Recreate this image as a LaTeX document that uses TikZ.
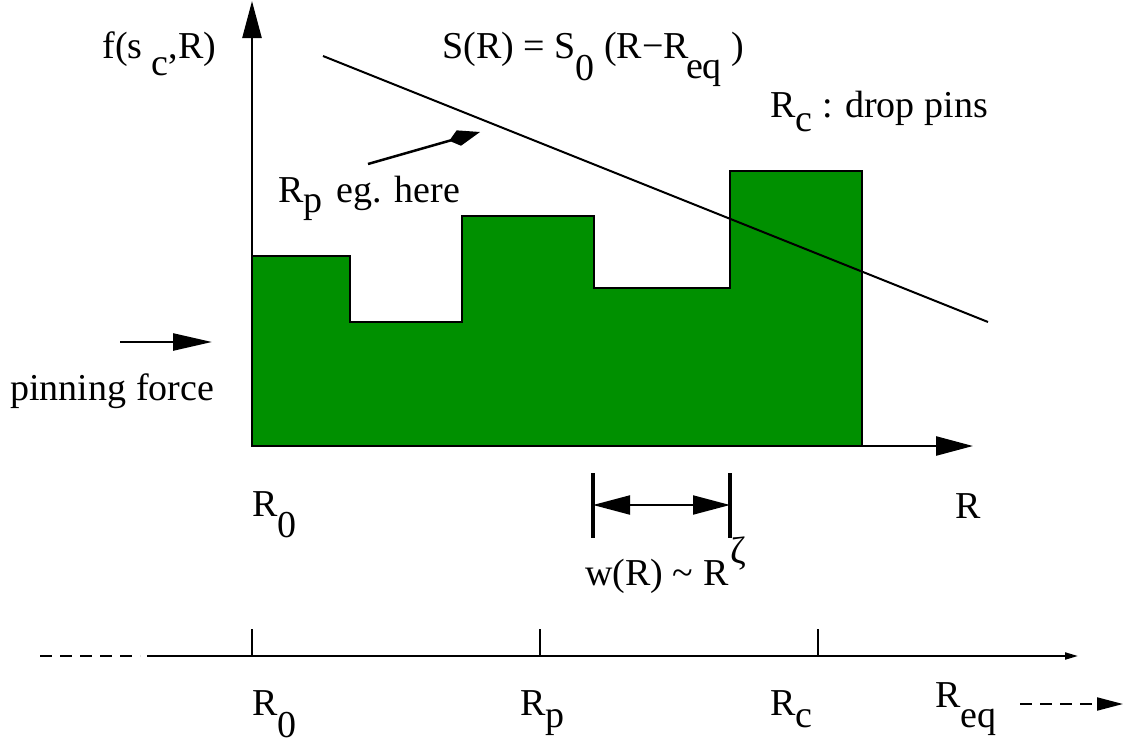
\documentclass[tikz,border=0pt]{standalone}
\usepackage{fontspec}
\setmainfont{Liberation Serif}
\usetikzlibrary{arrows.meta}
\definecolor{verde}{RGB}{0,144,0}
\newcommand{\dn}[2]{\raisebox{-#1pt}{#2}}

\begin{document}
\begin{tikzpicture}[x=1pt, y=-1pt, thick]
			% Stili per assi, etichette e frecce
			\tikzset{
				etichetta/.style={anchor=base west, inner sep=0pt, font=\rmfamily\fontsize{38}{40}\selectfont},
				asse/.style={line width=2.5pt, -{Triangle[length=37pt, width=19pt]}},
				freccia/.style={line width=2.5pt, -{Triangle[length=39pt, width=17pt]}},
				quota/.style={line width=2pt, {Triangle[length=37pt, width=19pt]}-{Triangle[length=37pt, width=19pt]}},
				tacca/.style={line width=2pt},
				tratteggio/.style={line width=2pt, dash pattern=on 12pt off 8pt}
			}
			\useasboundingbox (0,0) rectangle (1127,744);
			
			% Istogramma della forza di pinning
			\draw[line width=2pt, fill=verde] (252,446) -- (252,256) -- (350,256) -- (350,322) -- (462,322) -- (462,216)
				-- (594,216) -- (594,288) -- (730,288) -- (730,171) -- (862,171) -- (862,446) -- cycle;
			
			% Punti degli assi
			\coordinate (O) at (252,446);
			\coordinate (Ytip) at (252,1);
			\coordinate (Xtip) at (973,446);
			\draw[asse] (O) -- (Ytip);
			\draw[asse] (O) -- (Xtip);
			
			% Retta S(R)
			\coordinate (S1) at (323,56);
			\coordinate (S2) at (988,322);
			\draw[line width=2pt] (S1) -- (S2);
			
			% Etichette del grafico
			\node[etichetta] (fsc) at (102,58) {f(s \dn{17}{c},R)};
			\node[etichetta] (SR) at (442,58) {S(R) = S\dn{22}{0} (R−R\kern-3pt\dn{20}{eq} )};
			\node[etichetta] (Rc) at (770,117) {R\dn{14}{c} : drop pins};
			\node[etichetta] (Rp) at (278,202) {R\dn{10}{p}\hspace{14pt}eg. here};
			\node[etichetta] (pin) at (10,400) {pinning force};
			\node[etichetta] (R0) at (252,516) {R\dn{21}{0}};
			\node[etichetta] (R) at (955,518) {R};
			\node[etichetta] (w) at (585,585) {w(R) \textasciitilde{} R\kern2pt\raisebox{22pt}{ζ}};
			
			% Frecce indicative
			\coordinate (Pa) at (368,164);
			\coordinate (Pb) at (480,132);
			\draw[line width=2.5pt, -{Kite[length=32pt, width=16pt, inset=10pt]}] (Pa) -- (Pb);
			\coordinate (Fa) at (120,342);
			\coordinate (Fb) at (212,342);
			\draw[freccia] (Fa) -- (Fb);
			
			% Quota w(R)
			\coordinate (Wl) at (593,505);
			\coordinate (Wr) at (730,505);
			\draw[line width=4pt] (593,473) -- (593,538);
			\draw[line width=4pt] (730,473) -- (730,538);
			\draw[quota] (Wl) -- (Wr);
			
			% Asse inferiore
			\coordinate (Da) at (40,656);
			\coordinate (Db) at (140,656);
			\coordinate (La) at (147,656);
			\coordinate (Lb) at (1078,656);
			\draw[tratteggio] (Da) -- (Db);
			\draw[line width=2pt, -{Triangle[length=13pt, width=7pt]}] (La) -- (Lb);
			\foreach \x in {252,540,818}
				\draw[tacca] (\x,629) -- (\x,656);
			
			% Etichette dell'asse inferiore
			\node[etichetta] (b0) at (252,715) {R\dn{22}{0}};
			\node[etichetta] (bp) at (520,715) {R\dn{12}{p}};
			\node[etichetta] (bc) at (770,715) {R\dn{12}{c}};
			\node[etichetta] (beq) at (935,707) {R\dn{20}{eq}};
			\coordinate (Ea) at (1020,704);
			\coordinate (Eb) at (1123,704);
			\draw[tratteggio, -{Triangle[length=26pt, width=13pt]}] (Ea) -- (Eb);
		\end{tikzpicture}
\end{document}
